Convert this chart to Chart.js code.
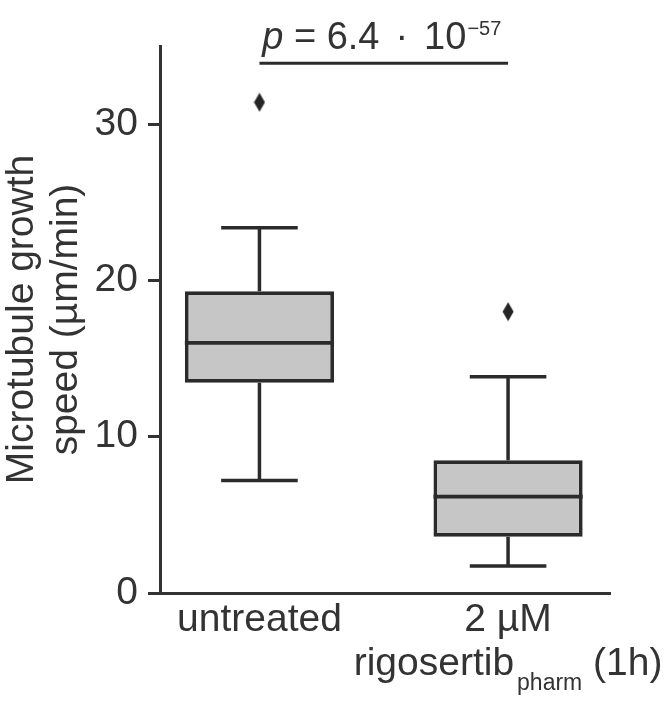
<!DOCTYPE html>
<html lang="en">
<head>
  <meta charset="UTF-8" />
  <title>Microtubule growth speed</title>
  <script src="https://cdn.jsdelivr.net/npm/chart.js"></script>
  <style>
    body { margin: 0; background: #fff; }
    #wrap { width: 666px; height: 704px; }
  </style>
</head>
<body>
  <div id="wrap">
    <canvas id="boxChart" width="666" height="704"></canvas>
  </div>

<script>
  // box plot values (µm/min)
  const categories = ["untreated", "2 µM"];
  const whiskerLow = [7.2, 1.73];
  const q1 = [13.45, 3.6];
  const median = [16.0, 6.17];
  const q3 = [19.3, 8.5];
  const whiskerHigh = [23.37, 13.83];
  const outliers = [[31.4], [18.0]];
  const yTicks = [0, 10, 20, 30];

  const FONT = "'Liberation Sans', Arial, sans-serif";
  const TEXT = "#333333";
  const DARK = "#2b2b2b";

  // thin diamond marker like matplotlib 'd'
  const diamond = document.createElement("canvas");
  diamond.width = 12;
  diamond.height = 20;
  const dctx = diamond.getContext("2d");
  dctx.fillStyle = "#262626";
  dctx.beginPath();
  dctx.moveTo(6, 0.5);
  dctx.lineTo(11.5, 10);
  dctx.lineTo(6, 19.5);
  dctx.lineTo(0.5, 10);
  dctx.closePath();
  dctx.fill();

  const boxData = categories.map((c, i) => ({ x: i, y: [q1[i], q3[i]] }));
  const outlierData = [];
  outliers.forEach((list, i) => list.forEach(v => outlierData.push({ x: i, y: v })));

  const boxExtras = {
    id: "boxExtras",
    afterDatasetsDraw(chart) {
      const ctx = chart.ctx;
      const xs = chart.scales.x;
      const ys = chart.scales.y;
      const bars = chart.getDatasetMeta(0).data;
      ctx.save();
      ctx.strokeStyle = DARK;
      ctx.lineCap = "butt";
      categories.forEach((c, i) => {
        const x = xs.getPixelForValue(i);
        const capHalf = (xs.getPixelForValue(1) - xs.getPixelForValue(0)) * 0.154;
        ctx.lineWidth = 3.5;
        ctx.beginPath();
        ctx.moveTo(x, ys.getPixelForValue(q3[i]));
        ctx.lineTo(x, ys.getPixelForValue(whiskerHigh[i]));
        ctx.moveTo(x, ys.getPixelForValue(q1[i]));
        ctx.lineTo(x, ys.getPixelForValue(whiskerLow[i]));
        ctx.moveTo(x - capHalf, ys.getPixelForValue(whiskerHigh[i]));
        ctx.lineTo(x + capHalf, ys.getPixelForValue(whiskerHigh[i]));
        ctx.moveTo(x - capHalf, ys.getPixelForValue(whiskerLow[i]));
        ctx.lineTo(x + capHalf, ys.getPixelForValue(whiskerLow[i]));
        ctx.stroke();
        // median
        const bar = bars[i];
        ctx.lineWidth = 3.8;
        ctx.beginPath();
        ctx.moveTo(bar.x - bar.width / 2, ys.getPixelForValue(median[i]));
        ctx.lineTo(bar.x + bar.width / 2, ys.getPixelForValue(median[i]));
        ctx.stroke();
      });
      ctx.restore();
    },
    afterDraw(chart) {
      const ctx = chart.ctx;
      const xs = chart.scales.x;
      const ys = chart.scales.y;
      ctx.save();
      ctx.fillStyle = TEXT;
      ctx.textBaseline = "alphabetic";

      // x category labels
      ctx.font = "39px " + FONT;
      ctx.textAlign = "center";
      ctx.fillText(categories[0], xs.getPixelForValue(0), 631);
      ctx.fillText(categories[1], xs.getPixelForValue(1), 631);

      // second line with subscript
      ctx.textAlign = "left";
      const big = "39px " + FONT, small = "23px " + FONT;
      ctx.font = big;
      const w1 = ctx.measureText("rigosertib").width;
      const w3 = ctx.measureText(" (1h)").width;
      ctx.font = small;
      const w2 = ctx.measureText("pharm").width + 3;
      let sx = xs.getPixelForValue(1) - (w1 + w2 + w3) / 2;
      ctx.font = big;
      ctx.fillText("rigosertib", sx, 675);
      ctx.font = small;
      ctx.fillText("pharm", sx + w1 + 3, 690);
      ctx.font = big;
      ctx.fillText(" (1h)", sx + w1 + w2, 675);

      // significance bracket
      const bx0 = xs.getPixelForValue(0), bx1 = xs.getPixelForValue(1);
      const by = ys.getPixelForValue(33.9);
      ctx.strokeStyle = DARK;
      ctx.lineWidth = 3;
      ctx.beginPath();
      ctx.moveTo(bx0, by);
      ctx.lineTo(bx1, by);
      ctx.stroke();

      // p = 6.4 · 10^-57, pieces laid out left to right
      const pF = "italic 38px " + FONT, mF = "38px " + FONT, sF = "20px " + FONT;
      const gap = 16;
      const parts = [
        { t: "p", f: pF, dy: 0, pad: 0 },
        { t: " = 6.4", f: mF, dy: 0, pad: 0 },
        { t: "\u00b7", f: mF, dy: 0, pad: gap },
        { t: "10", f: mF, dy: 0, pad: gap },
        { t: "\u221257", f: sF, dy: -14, pad: 1 }
      ];
      let total = 0;
      parts.forEach(p => { ctx.font = p.f; p.w = ctx.measureText(p.t).width; total += p.w + p.pad; });
      let tx = (bx0 + bx1) / 2 - total / 2 - 2;
      parts.forEach(p => {
        tx += p.pad;
        ctx.font = p.f;
        ctx.fillText(p.t, tx, 49 + p.dy);
        tx += p.w;
      });
      ctx.restore();
    }
  };

  new Chart(document.getElementById("boxChart"), {
    type: "bar",
    data: {
      datasets: [{
        data: boxData,
        backgroundColor: "#c6c6c7",
        borderColor: DARK,
        borderWidth: 3.8,
        borderSkipped: false,
        barPercentage: 0.6,
        categoryPercentage: 1
      }, {
        type: "scatter",
        data: outlierData,
        pointStyle: diamond,
        pointRadius: 6,
        showLine: false
      }]
    },
    options: {
      responsive: false,
      animation: false,
      layout: { padding: { top: 46, right: 56, left: 0, bottom: 0 } },
      plugins: { legend: { display: false }, tooltip: { enabled: false } },
      scales: {
        x: {
          type: "linear",
          offset: false,
          min: -0.4,
          max: 1.41,
          afterBuildTicks: s => { s.ticks = categories.map((c, i) => ({ value: i })); },
          grid: { display: false },
          ticks: { display: false },
          border: { display: true, width: 3, color: "#333333" },
          afterFit: s => { s.height = 111; }
        },
        y: {
          min: 0,
          max: 35,
          afterBuildTicks: s => { s.ticks = yTicks.map(v => ({ value: v })); },
          grid: {
            drawOnChartArea: false,
            drawTicks: true,
            tickLength: 12,
            tickWidth: 3,
            tickColor: "#333333",
            lineWidth: 3,
            color: "#333333"
          },
          border: { display: true, width: 3, color: "#333333" },
          ticks: {
            padding: 10,
            color: TEXT,
            font: { family: FONT, size: 39 }
          },
          title: {
            display: true,
            text: ["Microtubule growth", "speed (µm/min)"],
            color: TEXT,
            font: { family: FONT, size: 39, lineHeight: 1.13 },
            padding: { top: 0, bottom: 0 }
          },
          afterFit: s => { s.width = 160; }
        }
      }
    },
    plugins: [boxExtras]
  });
</script>
</body>
</html>
